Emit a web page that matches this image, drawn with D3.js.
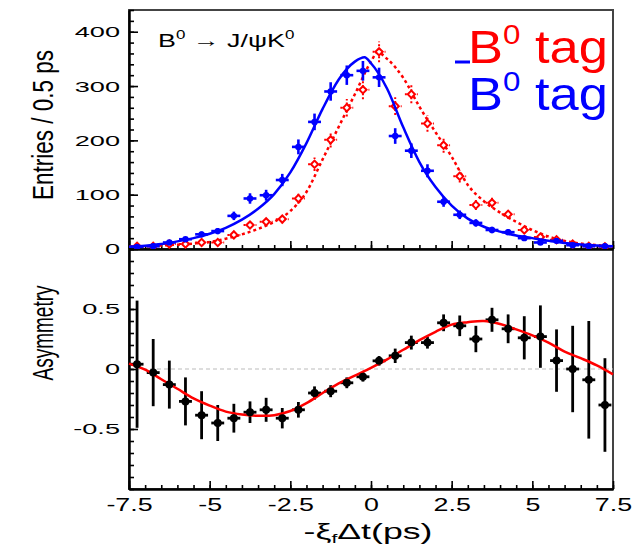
<!DOCTYPE html>
<html>
<head>
<meta charset="utf-8">
<script src="https://cdn.jsdelivr.net/npm/d3@7"></script>
<style>
  body { margin: 0; background: #fff; }
  svg { display: block; font-family: "Liberation Sans", Arial, Helvetica, sans-serif; }
</style>
</head>
<body>
<svg width="642" height="547"></svg>
<script>
// bin centres (0.5 ps bins)
const binCenters = [-7.25, -6.75, -6.25, -5.75, -5.25, -4.75, -4.25, -3.75, -3.25, -2.75,
  -2.25, -1.75, -1.25, -0.75, -0.25, 0.25, 0.75, 1.25, 1.75, 2.25,
  2.75, 3.25, 3.75, 4.25, 4.75, 5.25, 5.75, 6.25, 6.75, 7.25];

// B0 tag (blue)
const b0Counts = [4, 5, 12, 18, 27, 33, 61, 93, 99, 127,
  188, 234, 290, 320, 328, 316, 208, 181, 144, 87,
  63, 48, 35, 31, 20, 12, 15, 7, 5, 5];
const b0Errors = [2, 2.2, 3.5, 4.2, 5.2, 5.7, 7.8, 9.6, 10, 11.3,
  13.7, 15.3, 17, 17.9, 18.1, 17.8, 14.4, 13.5, 12, 9.3,
  7.9, 6.9, 5.9, 5.6, 4.5, 3.5, 3.9, 2.6, 2.2, 2.2];

// anti-B0 tag (red)
const b0barCounts = [5, 5, 9, 9, 12, 12, 26, 44, 50, 55,
  93, 156, 201, 260, 293, 363, 263, 285, 231, 191,
  134, 81, 85, 64, 35, 22, 17, 9, 5, 4];
const b0barErrors = [2.2, 2.2, 3, 3, 3.5, 3.5, 5.1, 6.6, 7.1, 7.4,
  9.6, 12.5, 14.2, 16.1, 17.1, 19.1, 16.2, 16.9, 15.2, 13.8,
  11.6, 9, 9.2, 8, 5.9, 4.7, 4.1, 3, 2.2, 2];

// asymmetry
const asymValues = [0.04, -0.03, -0.13, -0.27, -0.385, -0.45, -0.41, -0.36, -0.34, -0.41,
  -0.34, -0.2, -0.185, -0.115, -0.065, 0.068, 0.11, 0.22, 0.22, 0.385,
  0.36, 0.25, 0.41, 0.335, 0.26, 0.27, 0.07, 0.0, -0.09, -0.3];
const asymErrors = [0.53, 0.28, 0.2, 0.2, 0.2, 0.15, 0.12, 0.09, 0.1, 0.085,
  0.065, 0.055, 0.05, 0.045, 0.04, 0.04, 0.06, 0.058, 0.05, 0.07,
  0.086, 0.11, 0.1, 0.12, 0.18, 0.26, 0.26, 0.36, 0.49, 0.39];

// fit curves
const b0FitT = [-7.5, -7, -6.5, -6, -5.5, -5, -4.5, -4, -3.5, -3, -2.5, -2, -1.5, -1, -0.5, -0.2,
  0, 0.5, 1, 1.5, 2, 2.5, 3, 3.5, 4, 4.5, 5, 5.5, 6, 6.5, 7, 7.5];
const b0Fit = [4, 6, 9, 14, 20, 28, 39, 54, 74, 101, 141, 195, 258, 312, 345, 353,
  342, 295, 224, 160, 114, 80, 56, 41, 32, 25, 20, 15, 11, 8.5, 6.5, 5];
const b0barFitT = [-7.5, -7, -6.5, -6, -5.5, -5, -4.5, -4, -3.5, -3, -2.5, -2, -1.5, -1, -0.5, 0,
  0.2, 0.5, 1, 1.5, 2, 2.5, 3, 3.5, 4, 4.5, 5, 5.5, 6, 6.5, 7, 7.5];
const b0barFit = [4, 5, 6.5, 8, 10, 13, 19, 27, 37, 50, 70, 105, 165, 225, 285, 345,
  362, 350, 315, 262, 215, 170, 118, 88, 67, 50, 35, 23, 15, 10, 7, 5];
const asymFitT = [-7.5, -7, -6.5, -6, -5.5, -5, -4.5, -4, -3.5, -3, -2.5, -2, -1.5, -1, -0.5, 0,
  0.5, 1, 1.5, 2, 2.5, 3, 3.5, 4, 4.5, 5, 5.5, 6, 6.5, 7, 7.5];
const asymFit = [0.045, -0.005, -0.085, -0.165, -0.245, -0.305, -0.355, -0.38, -0.39, -0.385,
  -0.35, -0.285, -0.2, -0.12, -0.055, 0.01, 0.08, 0.16, 0.24, 0.31, 0.37, 0.39, 0.4, 0.375,
  0.33, 0.28, 0.22, 0.145, 0.09, 0.03, -0.045];

const xTickValues = [-7.5, -5, -2.5, 0, 2.5, 5, 7.5];
const entriesTicks = [0, 100, 200, 300, 400];
const asymTicks = [-0.5, 0, 0.5];

const svg = d3.select("svg");
const plotL = 129, plotR = 613, plotT = 10, plotM = 249, plotB = 489;
const halfBin = 0.2;

const x = d3.scaleLinear().domain([-7.5, 7.5]).range([plotL, plotR]);
const yTop = d3.scaleLinear().domain([0, 440]).range([plotM, plotT]);
const yBot = d3.scaleLinear().domain([-1, 1]).range([plotB, plotM]);

// widen text the way the original (stretched) picture shows it
function stretch(sel, k) {
  sel.each(function () {
    const w = this.getComputedTextLength();
    d3.select(this).attr("textLength", w * k).attr("lengthAdjust", "spacingAndGlyphs");
  });
}
function fitWidth(sel, w) {
  const bw = sel.node().getBBox().width;
  sel.attr("transform", `scale(${w / bw},1)`);
}

// frames
svg.append("rect").attr("x", plotL).attr("y", plotT).attr("width", plotR - plotL).attr("height", plotM - plotT)
  .attr("fill", "none").attr("stroke", "#444").attr("stroke-width", 2);
svg.append("rect").attr("x", plotL).attr("y", plotM).attr("width", plotR - plotL).attr("height", plotB - plotM)
  .attr("fill", "none").attr("stroke", "#444").attr("stroke-width", 2);

// zero line of asymmetry
svg.append("line").attr("x1", plotL).attr("x2", plotR).attr("y1", yBot(0)).attr("y2", yBot(0))
  .attr("stroke", "#bbb").attr("stroke-width", 1).attr("stroke-dasharray", "4,3");

function styleAxis(g) {
  g.selectAll("path").attr("stroke", "#000").attr("stroke-width", 2);
  g.selectAll("line").attr("stroke", "#000").attr("stroke-width", 1.6);
}

// x axes (top panel has no labels)
[plotM, plotB].forEach((yy, i) => {
  svg.append("g").attr("transform", `translate(0,${yy})`)
    .call(d3.axisBottom(x).tickValues(d3.range(-7.5, 7.51, 0.5)).tickSize(-4).tickSizeOuter(0).tickFormat(""))
    .call(styleAxis);
  const g = svg.append("g").attr("transform", `translate(0,${yy})`)
    .call(d3.axisBottom(x).tickValues(xTickValues).tickSize(-8).tickSizeOuter(0).tickPadding(9)
      .tickFormat(d => i === 1 ? String(d) : ""))
    .call(styleAxis);
  g.selectAll("text").attr("font-size", 18.5).attr("fill", "#000")
    .attr("font-family", "Liberation Sans, Arial, sans-serif").call(stretch, 1.45);
});

// y axes
function yAxis(scale, minors, majors) {
  svg.append("g").attr("transform", `translate(${plotL},0)`)
    .call(d3.axisLeft(scale).tickValues(minors).tickSize(-5).tickSizeOuter(0).tickFormat(""))
    .call(styleAxis);
  const g = svg.append("g").attr("transform", `translate(${plotL},0)`)
    .call(d3.axisLeft(scale).tickValues(majors).tickSize(-9).tickSizeOuter(0).tickPadding(9)
      .tickFormat(d => String(d)))
    .call(styleAxis);
  g.selectAll("text").attr("font-size", 15.5).attr("fill", "#000")
    .attr("font-family", "Liberation Sans, Arial, sans-serif").call(stretch, 1.75);
}
yAxis(yTop, d3.range(0, 441, 20), entriesTicks);
yAxis(yBot, d3.range(-10, 11).map(d => d / 10), asymTicks);

// axis titles
svg.append("text").attr("transform", `translate(53,125) rotate(-90)`)
  .attr("text-anchor", "middle").attr("font-size", 30).attr("fill", "#000")
  .attr("textLength", 150).attr("lengthAdjust", "spacingAndGlyphs")
  .text("Entries / 0.5 ps");
svg.append("text").attr("transform", `translate(53,333) rotate(-90)`)
  .attr("text-anchor", "middle").attr("font-size", 30).attr("fill", "#000")
  .attr("textLength", 95).attr("lengthAdjust", "spacingAndGlyphs")
  .text("Asymmetry");

const xTitleG = svg.append("g").attr("transform", "translate(368,539)");
const xTitle = xTitleG.append("text").attr("text-anchor", "middle").attr("font-size", 22).attr("fill", "#000");
xTitle.append("tspan").text("-ξ");
xTitle.append("tspan").attr("font-size", 13).attr("dy", 4).text("f");
xTitle.append("tspan").attr("dy", -4).text("Δt(ps)");
fitWidth(xTitle, 129);

// process label
const procG = svg.append("g").attr("transform", "translate(158,47)");
const proc = procG.append("text").attr("font-size", 19).attr("fill", "#000");
proc.append("tspan").text("B");
proc.append("tspan").attr("font-size", 12).attr("dy", -8).text("0");
proc.append("tspan").attr("dy", 8).text(" → J/ψK");
proc.append("tspan").attr("font-size", 12).attr("dy", -8).text("0");
fitWidth(proc, 137);

// top panel: red (anti-B0 tag) first
svg.append("clipPath").attr("id", "clipTop").append("rect")
  .attr("x", plotL).attr("y", plotT).attr("width", plotR - plotL).attr("height", plotM - plotT);

const red = "#ff0000", blue = "#0000ff";
const b0barPts = binCenters.map((t, i) => ({ t, v: b0barCounts[i], e: b0barErrors[i] }));
const b0Pts = binCenters.map((t, i) => ({ t, v: b0Counts[i], e: b0Errors[i] }));

const lineTop = d3.line().x(d => x(d[0])).y(d => yTop(d[1])).curve(d3.curveMonotoneX);
const topG = svg.append("g").attr("clip-path", "url(#clipTop)");

function errorBars(g, pts, yScale, color, width, dash) {
  const eb = g.append("g").attr("stroke", color).attr("stroke-width", width)
    .attr("stroke-dasharray", dash);
  eb.selectAll(".v").data(pts).join("line")
    .attr("x1", d => x(d.t)).attr("x2", d => x(d.t))
    .attr("y1", d => yScale(d.v - d.e)).attr("y2", d => yScale(d.v + d.e));
  eb.selectAll(".h").data(pts).join("line")
    .attr("x1", d => x(d.t - halfBin)).attr("x2", d => x(d.t + halfBin))
    .attr("y1", d => yScale(d.v)).attr("y2", d => yScale(d.v));
}

errorBars(topG, b0barPts, yTop, red, 2, "2,2");
topG.append("path").datum(b0barFitT.map((t, i) => [t, b0barFit[i]]))
  .attr("fill", "none").attr("stroke", red).attr("stroke-width", 2.5)
  .attr("stroke-dasharray", "3,3").attr("d", lineTop);
topG.selectAll(".rm").data(b0barPts).join("path")
  .attr("transform", d => `translate(${x(d.t)},${yTop(d.v)}) rotate(45)`)
  .attr("d", d3.symbol(d3.symbolSquare, 26))
  .attr("fill", "#fff").attr("stroke", red).attr("stroke-width", 2);

errorBars(topG, b0Pts, yTop, blue, 2.6, null);
topG.append("path").datum(b0FitT.map((t, i) => [t, b0Fit[i]]))
  .attr("fill", "none").attr("stroke", blue).attr("stroke-width", 2.5).attr("d", lineTop);
topG.selectAll(".bm").data(b0Pts).join("circle")
  .attr("cx", d => x(d.t)).attr("cy", d => yTop(d.v)).attr("r", 3.2).attr("fill", blue);

// bottom panel
const asymPts = binCenters.map((t, i) => ({ t, v: asymValues[i], e: asymErrors[i] }));
errorBars(svg.append("g"), asymPts, yBot, "#000", 2.8, null);
svg.append("path").datum(asymFitT.map((t, i) => [t, asymFit[i]]))
  .attr("fill", "none").attr("stroke", red).attr("stroke-width", 2.5)
  .attr("d", d3.line().x(d => x(d[0])).y(d => yBot(d[1])).curve(d3.curveCatmullRom));
svg.selectAll(".am").data(asymPts).join("circle")
  .attr("cx", d => x(d.t)).attr("cy", d => yBot(d.v)).attr("r", 4).attr("fill", "#000");

// legend
svg.append("line").attr("x1", 455).attr("x2", 470).attr("y1", 62).attr("y2", 62)
  .attr("stroke", blue).attr("stroke-width", 3);
function legendText(yy, color) {
  const g = svg.append("g").attr("transform", `translate(468,${yy})`);
  const t = g.append("text").attr("font-size", 47).attr("fill", color);
  t.append("tspan").text("B");
  t.append("tspan").attr("font-size", 28).attr("dy", -19).text("0");
  t.append("tspan").attr("dy", 19).text(" tag");
  fitWidth(t, 140);
}
legendText(63, red);
legendText(110, blue);
</script>
</body>
</html>
